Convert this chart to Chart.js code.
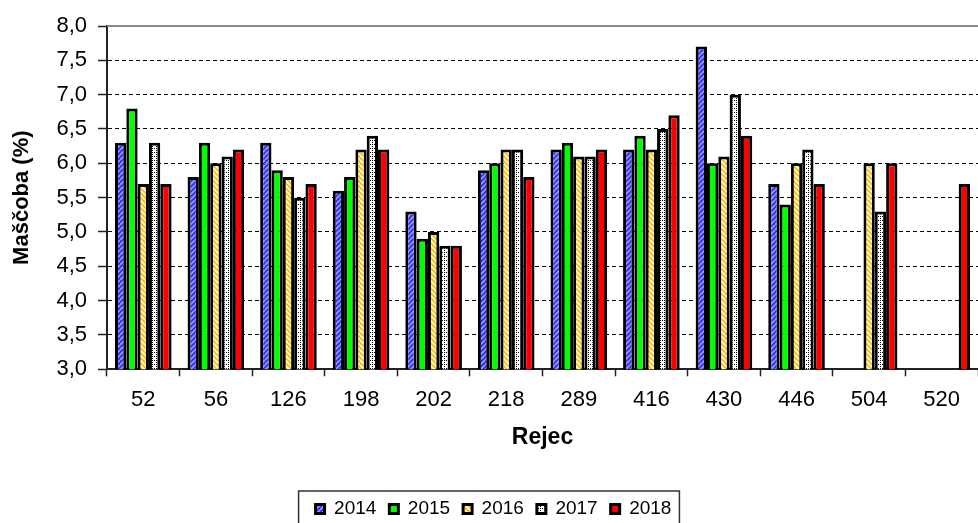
<!DOCTYPE html>
<html>
<head>
<meta charset="utf-8">
<script src="https://cdn.jsdelivr.net/npm/chart.js@4.4.1/dist/chart.umd.min.js"></script>
<style>
  html, body { margin: 0; padding: 0; background: #fff; overflow: hidden; }
  #wrap { width: 978px; height: 523px; }
</style>
</head>
<body>
<div id="wrap"><canvas id="c" width="978" height="523"></canvas></div>
<script>
// Fat content (%) per cow, by year
const categories = ['52', '56', '126', '198', '202', '218', '289', '416', '430', '446', '504', '520'];
const years = ['2014', '2015', '2016', '2017', '2018'];
const fat2014 = [6.3, 5.8, 6.3, 5.6, 5.3, 5.9, 6.2, 6.2, 7.7, 5.7, null, null];
const fat2015 = [6.8, 6.3, 5.9, 5.8, 4.9, 6.0, 6.3, 6.4, 6.0, 5.4, null, null];
const fat2016 = [5.7, 6.0, 5.8, 6.2, 5.0, 6.2, 6.1, 6.2, 6.1, 6.0, 6.0, null];
const fat2017 = [6.3, 6.1, 5.5, 6.4, 4.8, 6.2, 6.1, 6.5, 7.0, 6.2, 5.3, null];
const fat2018 = [5.7, 6.2, 5.7, 6.2, 4.8, 5.8, 6.2, 6.7, 6.4, 5.7, 6.0, 5.7];
const yMin = 3.0, yMax = 8.0, yStep = 0.5;

const FONT = "'Liberation Sans', Arial, sans-serif";
const canvas = document.getElementById('c');
const ctx = canvas.getContext('2d');

// Fill patterns
function stripes(base, stripe, rising, size, width) {
  const t = document.createElement('canvas');
  t.width = size; t.height = size;
  const g = t.getContext('2d');
  g.fillStyle = base; g.fillRect(0, 0, size, size);
  g.strokeStyle = stripe; g.lineWidth = width;
  for (let k = -1; k <= 1; k++) {
    g.beginPath();
    if (rising) { g.moveTo(k * size, size); g.lineTo(k * size + size, 0); }
    else { g.moveTo(k * size, 0); g.lineTo(k * size + size, size); }
    g.stroke();
  }
  return ctx.createPattern(t, 'repeat');
}
function dottedGrid() {
  const t = document.createElement('canvas');
  t.width = 4; t.height = 4;
  const g = t.getContext('2d');
  g.fillStyle = '#ffffff'; g.fillRect(0, 0, 4, 4);
  g.fillStyle = '#000000';
  g.fillRect(0, 0, 1, 1); g.fillRect(2, 0, 1, 1); g.fillRect(0, 2, 1, 1);
  return ctx.createPattern(t, 'repeat');
}

const fills = [
  stripes('#3030ff', '#9c9cff', true, 5, 1.6),
  '#00ff00',
  stripes('#ffc000', '#ffffff', false, 5, 1.6),
  dottedGrid(),
  '#ff0000'
];
const series = [fat2014, fat2015, fat2016, fat2017, fat2018];

const datasets = years.map((y, i) => ({
  label: y,
  data: series[i],
  backgroundColor: fills[i],
  borderColor: '#000000',
  borderWidth: 3,
  borderSkipped: 'start',
  categoryPercentage: 0.78,
  barPercentage: 1.0
}));

const fmt = v => Number(v).toFixed(1).replace('.', ',');

// Plot frame top line and legend outline
const frame = {
  id: 'frame',
  beforeDatasetsDraw(chart) {
    const a = chart.chartArea, c = chart.ctx;
    c.save();
    c.strokeStyle = '#8a8a8a';
    c.lineWidth = 2;
    c.beginPath();
    c.moveTo(a.left, a.top);
    c.lineTo(a.right, a.top);
    c.stroke();
    c.restore();
  },
  afterDraw(chart) {
    const lg = chart.legend, hb = lg.legendHitBoxes;
    if (!hb || !hb.length) return;
    const c = chart.ctx;
    const x0 = hb[0].left - 17;
    const x1 = hb[hb.length - 1].left + hb[hb.length - 1].width + 8;
    const y0 = lg.top + 4.5;
    c.save();
    c.strokeStyle = '#333333';
    c.lineWidth = 1.5;
    c.strokeRect(x0, y0, x1 - x0, 60);
    c.restore();
  }
};

new Chart(ctx, {
  type: 'bar',
  data: { labels: categories, datasets },
  plugins: [frame],
  options: {
    responsive: false,
    animation: false,
    layout: { padding: { top: 26, right: -9, bottom: 0, left: 0 } },
    plugins: {
      tooltip: { enabled: false },
      legend: {
        position: 'bottom',
        maxHeight: 36.5,
        labels: {
          boxWidth: 9,
          boxHeight: 9,
          padding: 13,
          color: '#000',
          font: { family: FONT, size: 19 }
        }
      }
    },
    scales: {
      x: {
        offset: true,
        grid: {
          display: true,
          drawOnChartArea: false,
          drawTicks: true,
          tickLength: 7,
          tickColor: '#222',
          tickWidth: 1.5,
          offset: true
        },
        border: { display: true, color: '#222', width: 2 },
        ticks: {
          color: '#000',
          padding: 10,
          font: { family: FONT, size: 22 }
        },
        title: {
          display: true,
          text: 'Rejec',
          color: '#000',
          font: { family: FONT, size: 23, weight: 'bold' },
          padding: { top: 0, bottom: 35.5 }
        },
        afterFit(scale) { scale.height = 117.2; }
      },
      y: {
        min: yMin,
        max: yMax,
        grid: {
          color: c => (c.tick && c.tick.value === yMax) ? 'rgba(0,0,0,0)' : '#000000',
          lineWidth: 1,
          drawTicks: true,
          tickLength: 9,
          tickColor: '#222',
          tickWidth: 1.5
        },
        border: { display: true, color: '#222', width: 2, dash: [4, 3] },
        ticks: {
          stepSize: yStep,
          color: '#000',
          padding: 11,
          font: { family: FONT, size: 22 },
          callback: v => fmt(v)
        },
        title: {
          display: true,
          text: 'Maščoba (%)',
          color: '#000',
          font: { family: FONT, size: 22, weight: 'bold' },
          padding: { top: 9, bottom: 0 }
        },
        afterFit(scale) { scale.width = 107; }
      }
    }
  }
});
</script>
</body>
</html>
